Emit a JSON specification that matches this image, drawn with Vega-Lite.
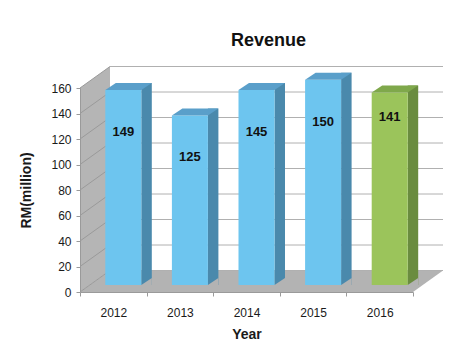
{
  "$schema": "https://vega.github.io/schema/vega-lite/v6.json",
  "width": 333,
  "height": 204,
  "autosize": {"type": "none"},
  "padding": {"left": 80, "top": 88, "right": 61, "bottom": 68},
  "background": "white",
  "title": {"text": "Revenue", "fontSize": 18, "font": "Liberation Sans", "fontWeight": "bold", "color": "#111111", "anchor": "middle", "dx": 22, "offset": 16},
  "datasets": {
    "revenue": [
      {"year": "2012", "bar": 153, "revenue": 149},
      {"year": "2013", "bar": 133, "revenue": 125},
      {"year": "2014", "bar": 153, "revenue": 145},
      {"year": "2015", "bar": 161, "revenue": 150},
      {"year": "2016", "bar": 151, "revenue": 141}
    ],
    "ticks": [{"t": 0}, {"t": 20}, {"t": 40}, {"t": 60}, {"t": 80}, {"t": 100}, {"t": 120}, {"t": 140}, {"t": 160}],
    "frame": [{"part": "wall"}]
  },
  "layer": [
    {
      "data": {"name": "frame"},
      "mark": {"type": "point", "shape": "M0,0L333,0L363,-21.5L30,-21.5Z", "size": 4, "filled": true, "opacity": 1, "color": "#b3b3b3", "strokeWidth": 0},
      "encoding": {
        "x": {"datum": "2012", "type": "nominal", "bandPosition": 0, "title": "Year", "scale": {"type": "band", "paddingInner": 0, "paddingOuter": 0},
          "axis": {"labelAngle": 0, "bandPosition": 0.5, "labelAlign": "center", "tickBand": "extent", "domainColor": "#9a9a9a", "tickColor": "#9a9a9a", "tickSize": 4, "labelPadding": 11, "titlePadding": 9, "zindex": 1}},
        "y": {"datum": 0, "type": "quantitative", "title": "RM(million)", "scale": {"domain": [0, 160], "nice": false},
          "axis": {"tickCount": 8, "labelOverlap": false, "grid": false, "domainColor": "#9a9a9a", "tickColor": "#9a9a9a", "tickSize": 4, "labelPadding": 5, "titlePadding": 17, "zindex": 1}}
      }
    },
    {
      "data": {"name": "frame"},
      "mark": {"type": "point", "shape": "M0,0L30,-21.5L30,-225.5L0,-204Z", "size": 4, "filled": true, "opacity": 1, "color": "#b5b5b5", "strokeWidth": 0},
      "encoding": {
        "x": {"datum": "2012", "type": "nominal", "bandPosition": 0, "title": "Year"},
        "y": {"datum": 0, "type": "quantitative", "title": "RM(million)"}
      }
    },
    {
      "data": {"name": "ticks"},
      "mark": {"type": "rule", "color": "#b0b0b0", "strokeWidth": 1, "xOffset": 30, "x2Offset": 30, "yOffset": -21.5},
      "encoding": {
        "x": {"datum": "2012", "type": "nominal", "bandPosition": 0, "title": "Year"},
        "x2": {"datum": "2016", "bandPosition": 1},
        "y": {"field": "t", "type": "quantitative", "title": "RM(million)"}
      }
    },
    {
      "data": {"name": "ticks"},
      "mark": {"type": "rule", "color": "#9a9a9a", "strokeWidth": 1, "x2Offset": 30, "y2Offset": -21.5},
      "encoding": {
        "x": {"datum": "2012", "type": "nominal", "bandPosition": 0, "title": "Year"},
        "x2": {"datum": "2012", "bandPosition": 0},
        "y": {"field": "t", "type": "quantitative", "title": "RM(million)"},
        "y2": {"field": "t"}
      }
    },
    {
      "data": {"name": "revenue"},
      "mark": {"type": "bar", "width": 10.5, "xOffset": 33.25, "yOffset": -14, "y2Offset": -7},
      "encoding": {
        "x": {"field": "year", "type": "nominal", "title": "Year"},
        "y": {"field": "bar", "type": "quantitative", "title": "RM(million)"},
        "y2": {"datum": 0},
        "color": {"condition": {"test": "datum.year === '2016'", "value": "#6a8c3f"}, "value": "#4a89ac"}
      }
    },
    {
      "data": {"name": "revenue"},
      "mark": {"type": "point", "shape": "M0,0L10.5,0L10.5,-7Z", "size": 4, "filled": true, "opacity": 1, "color": "#b3b3b3", "strokeWidth": 0, "xOffset": 28, "yOffset": -7},
      "encoding": {
        "x": {"field": "year", "type": "nominal", "title": "Year"},
        "y": {"datum": 0, "type": "quantitative", "title": "RM(million)"}
      }
    },
    {
      "data": {"name": "revenue"},
      "mark": {"type": "bar", "width": 36, "xOffset": 10, "yOffset": -7, "y2Offset": -7},
      "encoding": {
        "x": {"field": "year", "type": "nominal", "title": "Year"},
        "y": {"field": "bar", "type": "quantitative", "title": "RM(million)"},
        "y2": {"datum": 0},
        "color": {"condition": {"test": "datum.year === '2016'", "value": "#9bc45b"}, "value": "#6dc5ef"}
      }
    },
    {
      "data": {"name": "revenue"},
      "mark": {"type": "point", "shape": "M0,0L36,0L46.5,-7L10.5,-7Z", "size": 4, "filled": true, "opacity": 1, "strokeWidth": 0, "xOffset": -8, "yOffset": -7},
      "encoding": {
        "x": {"field": "year", "type": "nominal", "title": "Year"},
        "y": {"field": "bar", "type": "quantitative", "title": "RM(million)"},
        "color": {"condition": {"test": "datum.year === '2016'", "value": "#7fa84b"}, "value": "#5a9fca"}
      }
    },
    {
      "data": {"name": "revenue"},
      "transform": [{"filter": "datum.year !== '2016'"}],
      "mark": {"type": "text", "fontWeight": "bold", "fontSize": 13, "color": "#111111", "xOffset": 10, "dy": 35, "baseline": "middle"},
      "encoding": {
        "x": {"field": "year", "type": "nominal", "title": "Year"},
        "y": {"field": "bar", "type": "quantitative", "title": "RM(million)"},
        "text": {"field": "revenue", "type": "quantitative"}
      }
    },
    {
      "data": {"name": "revenue"},
      "transform": [{"filter": "datum.year === '2016'"}],
      "mark": {"type": "text", "fontWeight": "bold", "fontSize": 13, "color": "#111111", "xOffset": 10, "dy": 18, "baseline": "middle"},
      "encoding": {
        "x": {"field": "year", "type": "nominal", "title": "Year"},
        "y": {"field": "bar", "type": "quantitative", "title": "RM(million)"},
        "text": {"field": "revenue", "type": "quantitative"}
      }
    }
  ],
  "config": {
    "font": "Liberation Sans",
    "view": {"stroke": null},
    "axis": {"labelFont": "Liberation Sans", "titleFont": "Liberation Sans", "labelColor": "#1a1a1a", "titleColor": "#1a1a1a", "labelFontSize": 12, "titleFontSize": 14, "titleFontWeight": "bold"},
    "axisY": {"tickCount": 8, "labelOverlap": false},
    "scale": {"bandPaddingInner": 0, "bandPaddingOuter": 0, "barBandPaddingInner": 0, "rectBandPaddingInner": 0, "pointPadding": 0}
  }
}
